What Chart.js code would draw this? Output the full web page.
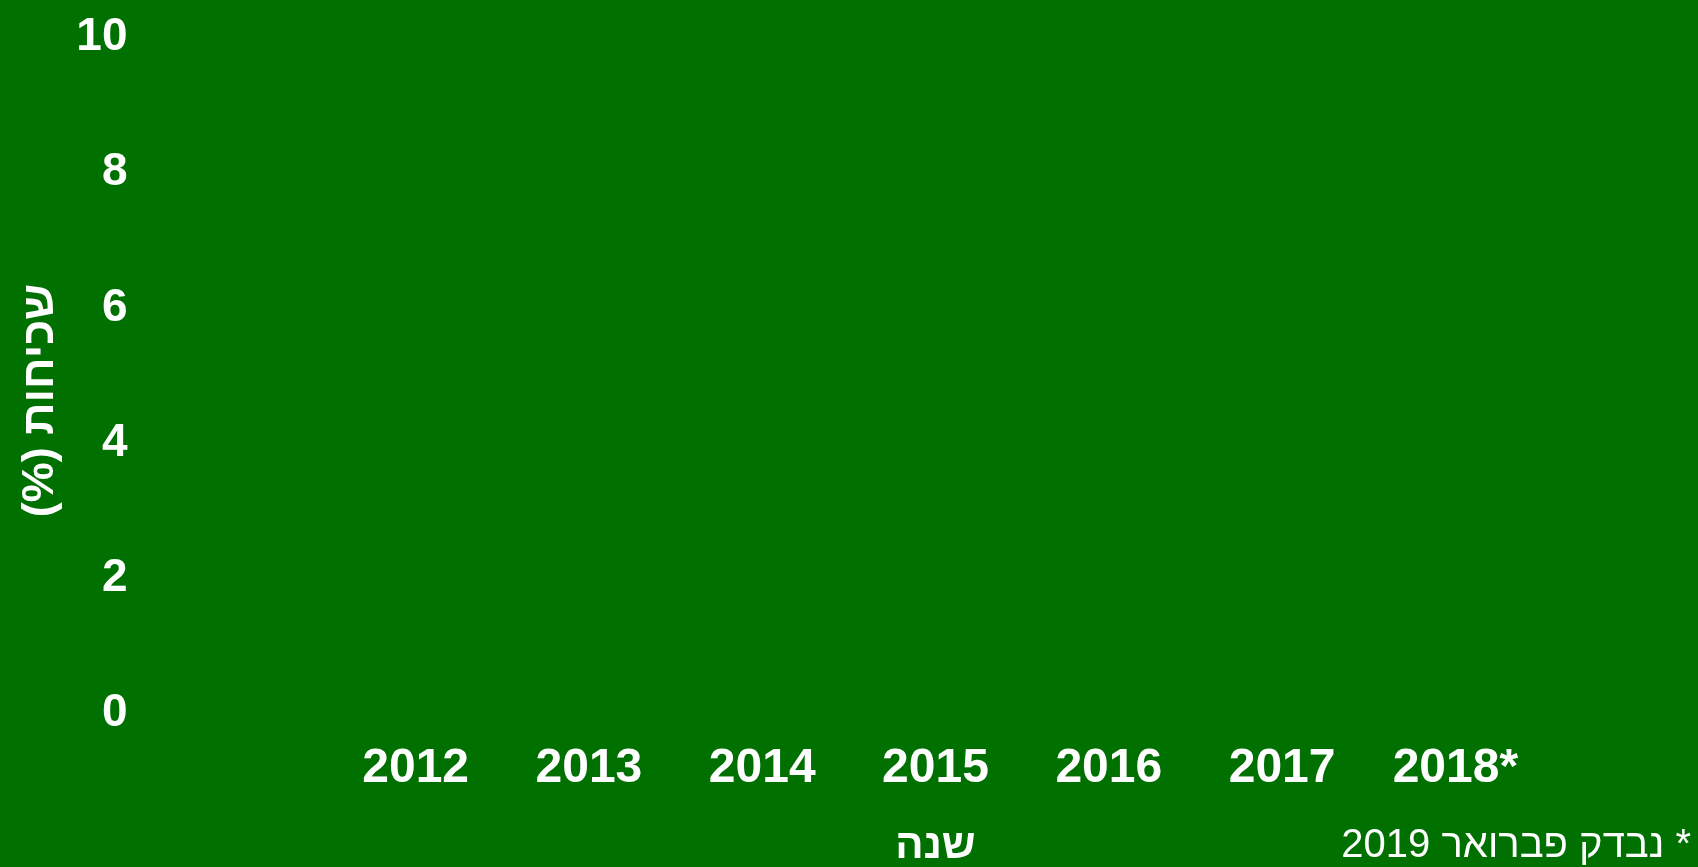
<!DOCTYPE html>
<html>
<head>
<meta charset="utf-8">
<script src="https://cdn.jsdelivr.net/npm/chart.js@4.4.1/dist/chart.umd.min.js"></script>
<style>
  html, body { margin: 0; padding: 0; background: #007000; }
  #wrap { width: 1698px; height: 867px; position: relative; }
  canvas { display: block; }
</style>
</head>
<body>
<div id="wrap"><canvas id="c" width="1698" height="867"></canvas></div>
<script>
// ---- data ----
const categories = ['2012', '2013', '2014', '2015', '2016', '2017', '2018*'];
const prevalence = [0, 0, 0, 0, 0, 0, 0];   // no bars are visible in the reference
const yTickValues = [0, 2, 4, 6, 8, 10];
const yAxisTitle = 'שכיחות (%)';
const xAxisTitle = 'שנה';
const footnoteText = '* נבדק פברואר 2019';

const BG = '#007000';
const FONT = "'Liberation Sans', Arial, sans-serif";

const bgPlugin = {
  id: 'bg',
  beforeDraw(chart) {
    const ctx = chart.ctx;
    ctx.save();
    ctx.fillStyle = BG;
    ctx.fillRect(0, 0, chart.width, chart.height);
    ctx.restore();
  }
};

const textPlugin = {
  id: 'extraText',
  afterDraw(chart) {
    const ctx = chart.ctx;
    // rotated y-axis title
    ctx.save();
    ctx.fillStyle = '#ffffff';
    ctx.font = 'bold 45px ' + FONT;
    ctx.direction = 'rtl';
    ctx.textAlign = 'center';
    ctx.textBaseline = 'middle';
    ctx.translate(41, 400.5);
    ctx.rotate(-Math.PI / 2);
    ctx.fillText(yAxisTitle, 0, 0);
    ctx.restore();
    // footnote
    ctx.save();
    ctx.fillStyle = '#ffffff';
    ctx.font = '40px ' + FONT;
    ctx.direction = 'rtl';
    ctx.textAlign = 'right';
    ctx.textBaseline = 'alphabetic';
    ctx.fillText(footnoteText, 1691, 857);
    ctx.restore();
  }
};

new Chart(document.getElementById('c'), {
  type: 'bar',
  data: {
    labels: categories,
    datasets: [{
      label: yAxisTitle,
      data: prevalence,
      backgroundColor: '#ffffff',
      borderWidth: 0
    }]
  },
  options: {
    responsive: false,
    animation: false,
    devicePixelRatio: 1,
    layout: { padding: { top: 37.5, right: 156, bottom: 0, left: 0 } },
    plugins: {
      legend: { display: false },
      tooltip: { enabled: false }
    },
    scales: {
      x: {
        grid: { display: false },
        border: { display: false },
        ticks: {
          color: '#ffffff',
          font: { family: FONT, size: 48, weight: 'bold' },
          padding: 18,
          maxRotation: 0,
          autoSkip: false
        },
        title: {
          display: true,
          text: xAxisTitle,
          color: '#ffffff',
          font: { family: FONT, size: 42, weight: 'bold', lineHeight: 1 },
          padding: { top: 0, bottom: 0 }
        },
        afterFit(scale) {
          scale.height = 153.5;
          scale.paddingLeft = 0;
          scale.paddingRight = 0;
        }
      },
      y: {
        min: 0,
        max: 10,
        grid: { display: false },
        border: { display: false },
        ticks: {
          color: '#ffffff',
          font: { family: FONT, size: 46, weight: 'bold' },
          padding: 193.5
        },
        afterBuildTicks(scale) {
          scale.ticks = yTickValues.map(v => ({ value: v }));
        },
        afterFit(scale) {
          scale.width = 329;
          scale.paddingTop = 0;
          scale.paddingBottom = 0;
        }
      }
    }
  },
  plugins: [bgPlugin, textPlugin]
});
</script>
</body>
</html>
